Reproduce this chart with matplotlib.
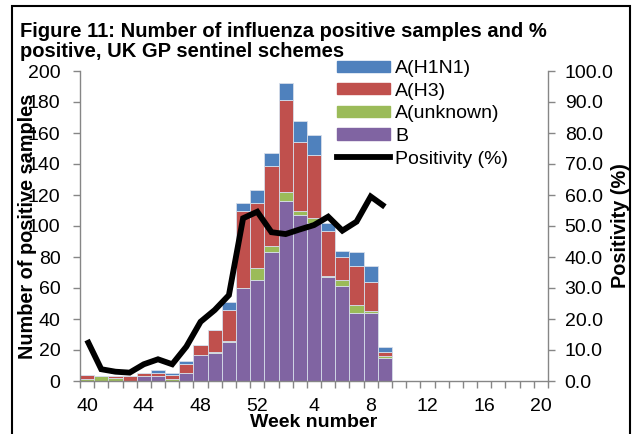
import matplotlib
matplotlib.use("Agg")
import matplotlib.pyplot as plt
from matplotlib.patches import Rectangle, Patch
from matplotlib.lines import Line2D
import numpy as np

plt.rcParams['font.family'] = ['Liberation Sans', 'DejaVu Sans']

weeks = [40, 41, 42, 43, 44, 45, 46, 47, 48, 49, 50, 51, 52,
         1, 2, 3, 4, 5, 6, 7, 8, 9, 10, 11, 12, 13, 14, 15, 16, 17, 18, 19, 20]
b_vals = [0, 0, 0, 0, 3, 3, 0, 5, 17, 18, 25, 60, 65, 83, 116, 107, 102, 67, 61, 44, 44, 15,
          0, 0, 0, 0, 0, 0, 0, 0, 0, 0, 0]
unk_vals = [1, 3, 2, 0, 0, 0, 1, 0, 0, 1, 1, 0, 8, 4, 6, 3, 3, 1, 4, 5, 1, 1,
            0, 0, 0, 0, 0, 0, 0, 0, 0, 0, 0]
h3_vals = [3, 0, 1, 3, 2, 2, 3, 6, 6, 14, 20, 50, 42, 52, 59, 44, 41, 29, 15, 25, 19, 3,
           0, 0, 0, 0, 0, 0, 0, 0, 0, 0, 0]
h1n1_vals = [0, 0, 0, 0, 0, 2, 1, 2, 0, 0, 5, 5, 8, 8, 11, 14, 13, 5, 4, 9, 10, 3,
             0, 0, 0, 0, 0, 0, 0, 0, 0, 0, 0]
positivity = [13.2, 3.8, 3.0, 2.7, 5.4, 7.0, 5.4, 11.1, 19.1, 22.9, 27.7, 52.5, 54.6,
              48.0, 47.4, 48.9, 50.3, 53.0, 48.5, 51.4, 59.5, 56.2]

c_h1 = '#4F81BD'
c_h3 = '#C0504D'
c_unk = '#9BBB59'
c_b = '#8064A2'
gray = '#868686'

W, H = 635, 434
fig = plt.figure(figsize=(W / 100, H / 100), dpi=100)
ax = fig.add_axes([80 / W, 1 - 381 / H, 468 / W, 310 / H])

x = np.arange(len(weeks))
b = np.array(b_vals, float)
u = np.array(unk_vals, float)
h3 = np.array(h3_vals, float)
h1 = np.array(h1n1_vals, float)
ek = dict(width=1.0, edgecolor='#d6deea', linewidth=0.6)
ax.bar(x, b, color=c_b, **ek)
ax.bar(x, u, bottom=b, color=c_unk, **ek)
ax.bar(x, h3, bottom=b + u, color=c_h3, **ek)
ax.bar(x, h1, bottom=b + u + h3, color=c_h1, **ek)

ax.set_xlim(-0.5, len(weeks) - 0.5)
ax.set_ylim(0, 200)
ax.set_yticks(np.arange(0, 201, 20))
ax.set_xticks(x[::4])
ax.set_xticklabels([str(w) for w in weeks[::4]])
ax.set_xticks(np.arange(-0.5, len(weeks) + 0.5, 1), minor=True)
ax.tick_params(axis='x', which='major', length=0, labelsize=14, pad=12)
ax.tick_params(axis='x', which='minor', length=5, color=gray, width=1, direction='out')
ax.tick_params(axis='y', length=5, color=gray, width=1, labelsize=14, pad=9)
for s in ['top', 'right']:
    ax.spines[s].set_visible(False)
for s in ['left', 'bottom']:
    ax.spines[s].set_color(gray)
    ax.spines[s].set_linewidth(1)

ax2 = ax.twinx()
ax2.plot(np.arange(len(positivity)), positivity, color='black', lw=4.2,
         solid_joinstyle='miter', solid_capstyle='butt')
ax2.set_ylim(0, 100)
ax2.set_yticks(np.arange(0, 101, 10))
ax2.set_yticklabels([f"{v:.1f}" for v in np.arange(0, 101, 10)])
ax2.tick_params(axis='y', length=5, color=gray, width=1, labelsize=14, pad=7)
for s in ['top', 'left', 'bottom']:
    ax2.spines[s].set_visible(False)
ax2.spines['right'].set_color(gray)
ax2.spines['right'].set_linewidth(1)

ax.set_ylabel('Number of positive samples', fontsize=14.3, fontweight='bold', va='center')
ax.yaxis.set_label_coords((28 - 80) / 468, 0.5)
ax2.set_ylabel('Positivity (%)', fontsize=14.3, fontweight='bold', va='center')
ax2.yaxis.set_label_coords((620 - 80) / 468, 0.5)
ax.set_xlabel('Week number', fontsize=14, fontweight='bold', va='baseline')
ax.xaxis.set_label_coords(0.5, (381 - 427) / 310)

fig.text(20 / W, 1 - 37 / H, 'Figure 11: Number of influenza positive samples and %',
         fontsize=14.5, fontweight='bold', ha='left', va='baseline')
fig.text(20 / W, 1 - 57 / H, 'positive, UK GP sentinel schemes',
         fontsize=14.5, fontweight='bold', ha='left', va='baseline')

handles = [Patch(color=c_h1), Patch(color=c_h3), Patch(color=c_unk), Patch(color=c_b),
           Line2D([], [], color='black', lw=4.2)]
labels = ['A(H1N1)', 'A(H3)', 'A(unknown)', 'B', 'Positivity (%)']
fig.legend(handles, labels, loc='upper left', bbox_to_anchor=(337 / W, 1 - 60 / H),
           frameon=False, fontsize=14, handlelength=2.7, handleheight=0.5,
           handletextpad=0.3, labelspacing=0.29, borderpad=0, borderaxespad=0)

fig.patches.append(Rectangle((12 / W, -0.02), (630 - 12) / W, 1.02 - 6 / H,
                             transform=fig.transFigure, fill=False,
                             edgecolor='black', linewidth=1.5))

fig.savefig('out.png', dpi=100)
